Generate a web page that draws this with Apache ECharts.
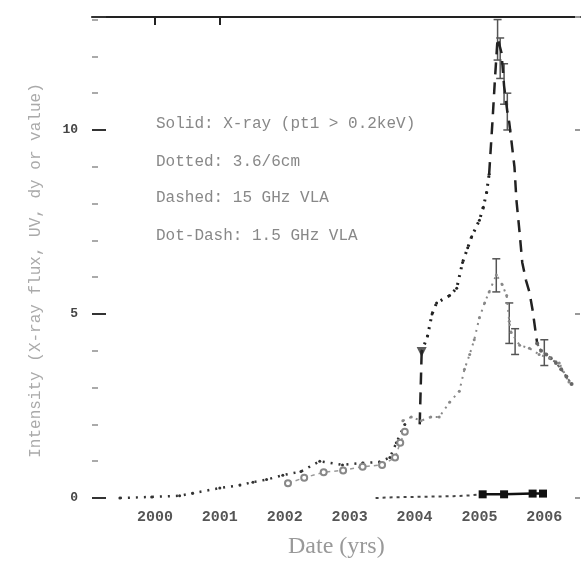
<!DOCTYPE html>
<html>
<head>
<meta charset="utf-8">
<script src="https://cdn.jsdelivr.net/npm/echarts@6/dist/echarts.min.js"></script>
<style>
  html, body { margin: 0; padding: 0; background: #fff; }
  #chart { width: 583px; height: 562px; }
</style>
</head>
<body>
<div id="chart"></div>
<script>
// tick labels
const yearTicks = [2000, 2001, 2002, 2003, 2004, 2005, 2006];
const topTicks = [2000, 2001];
const legendLines = [
  "Solid: X-ray (pt1 > 0.2keV)",
  "Dotted: 3.6/6cm",
  "Dashed: 15 GHz VLA",
  "Dot-Dash: 1.5 GHz VLA"
];

// X-ray, near zero
const xrayYears = [2005.05, 2005.38, 2005.82, 2005.98];
const xrayValues = [0.1, 0.1, 0.12, 0.12];
const xrayLimYears = [2003.4, 2003.7, 2004.0, 2004.3, 2004.6, 2004.85, 2005.05];
const xrayLimValues = [0.0, 0.02, 0.03, 0.04, 0.05, 0.07, 0.1];

// dotted curve, early part
const dotEarlyYears = [1999.46, 1999.95, 2000.38, 2000.58, 2001.0, 2001.31, 2001.51, 2001.72, 2001.97, 2002.25, 2002.54, 2002.89, 2003.2, 2003.46, 2003.62, 2003.72, 2003.85];
const dotEarlyValues = [0.0, 0.03, 0.06, 0.13, 0.27, 0.35, 0.43, 0.5, 0.62, 0.72, 1.0, 0.9, 0.95, 0.98, 1.1, 1.5, 2.0];
// dotted curve, rise to 2005
const dotRiseYears = [2004.11, 2004.2, 2004.27, 2004.34, 2004.54, 2004.65, 2004.74, 2004.82, 2004.88, 2005.0, 2005.06, 2005.11, 2005.15];
const dotRiseValues = [3.97, 4.4, 5.0, 5.3, 5.5, 5.7, 6.4, 6.8, 7.1, 7.55, 7.9, 8.3, 8.8];

// dashed segments
const dashJumpYears = [2004.08, 2004.11];
const dashJumpValues = [2.0, 3.97];
const dashPeakYears = [2005.15, 2005.2, 2005.24, 2005.28, 2005.34, 2005.38, 2005.43, 2005.46, 2005.54, 2005.57, 2005.62, 2005.66, 2005.72, 2005.77, 2005.82, 2005.89];
const dashPeakValues = [8.8, 10.2, 11.4, 12.5, 12.1, 11.2, 10.5, 10.2, 9.0, 8.1, 7.2, 6.4, 5.9, 5.6, 5.1, 4.2];
const tailYears = [2005.89, 2005.95, 2006.03, 2006.1, 2006.18, 2006.26, 2006.34, 2006.42];
const tailValues = [4.2, 4.0, 3.9, 3.8, 3.67, 3.5, 3.3, 3.1];

// dot-dash (lighter) curve
const lightYears = [2003.82, 2003.95, 2004.1, 2004.25, 2004.38, 2004.54, 2004.69, 2004.77, 2004.85, 2004.92, 2005.0, 2005.08, 2005.15, 2005.26, 2005.35, 2005.42, 2005.46, 2005.49, 2005.62, 2005.77, 2005.92, 2006.08, 2006.23, 2006.38];
const lightValues = [2.1, 2.2, 2.1, 2.2, 2.2, 2.6, 2.9, 3.5, 3.9, 4.3, 4.9, 5.3, 5.6, 6.06, 5.8, 5.5, 4.8, 4.5, 4.15, 4.07, 3.9, 3.8, 3.67, 3.15];
// second scattered group 2002-2004
const scatterYears = [2002.05, 2002.3, 2002.6, 2002.9, 2003.2, 2003.5, 2003.7, 2003.78, 2003.85];
const scatterValues = [0.4, 0.55, 0.7, 0.75, 0.85, 0.9, 1.1, 1.5, 1.8];

// error bars: year, low, high
const errYears = [2005.28, 2005.32, 2005.38, 2005.43, 2005.26, 2005.46, 2005.55, 2006.0];
const errLow = [11.9, 11.4, 10.7, 10.0, 5.6, 4.2, 3.9, 3.6];
const errHigh = [13.0, 12.5, 11.8, 11.0, 6.5, 5.3, 4.6, 4.3];

function pairs(xs, ys) {
  return xs.map((x, i) => [x, ys[i]]);
}

const chart = echarts.init(document.getElementById("chart"));

const mono = "Liberation Mono";

chart.setOption({
  animation: false,
  backgroundColor: "#fff",
  grid: { left: 92, right: 3, top: 17, bottom: 64 },
  xAxis: [
    {
      type: "value",
      min: 1999.03,
      max: 2006.55,
      axisLine: { show: false, onZero: false },
      axisTick: { show: false },
      splitLine: { show: false },
      axisLabel: {
        customValues: yearTicks,
        margin: 12,
        fontFamily: mono,
        fontWeight: "bold",
        fontSize: 15,
        color: "#555",
        formatter: (v) => String(Math.round(v))
      }
    },
    {
      type: "value",
      position: "top",
      min: 1999.03,
      max: 2006.55,
      axisLine: { show: true, onZero: false, lineStyle: { color: "#222", width: 2 } },
      axisTick: { show: true, inside: true, length: 8, customValues: topTicks, lineStyle: { color: "#222", width: 2 } },
      axisLabel: { show: false },
      splitLine: { show: false }
    }
  ],
  yAxis: [
    {
      type: "value",
      min: 0,
      max: 13.07,
      interval: 5,
      axisLine: { show: false, onZero: false },
      axisTick: { show: true, inside: true, length: 14, lineStyle: { color: "#333", width: 2 } },
      minorTick: { show: true, splitNumber: 5, length: 6, lineStyle: { color: "#aaa", width: 2 } },
      splitLine: { show: false },
      axisLabel: {
        margin: 14,
        fontFamily: mono,
        fontWeight: "bold",
        fontSize: 13,
        color: "#444",
        showMaxLabel: false
      },
      name: "Intensity (X-ray flux, UV, dy or value)",
      nameLocation: "middle",
      nameRotate: 90,
      nameGap: 48,
      nameTextStyle: { fontFamily: mono, fontSize: 16, color: "#aaa", padding: [0, 26, 0, 0] }
    },
    {
      type: "value",
      position: "right",
      min: 0,
      max: 13.07,
      interval: 5,
      axisLine: { show: false, onZero: false },
      axisTick: { show: true, inside: true, length: 5, lineStyle: { color: "#999", width: 2 } },
      axisLabel: { show: false },
      splitLine: { show: false }
    }
  ],
  graphic: [
    ...legendLines.map((t, i) => ({
      type: "text",
      left: 156,
      top: [116, 154, 190, 228][i],
      style: { text: t, fontFamily: mono, fontSize: 16, fill: "#888" }
    })),
    {
      type: "text",
      left: 288,
      top: 535,
      style: { text: "Date (yrs)", fontFamily: "Liberation Serif", fontSize: 24, fill: "#999" }
    }
  ],
  series: [
    {
      type: "line",
      data: pairs(xrayLimYears, xrayLimValues),
      symbol: "none",
      lineStyle: { color: "#444", width: 2, type: [3, 4] }
    },
    {
      type: "line",
      data: pairs(xrayYears, xrayValues),
      symbol: "rect",
      symbolSize: 8,
      itemStyle: { color: "#111" },
      lineStyle: { color: "#111", width: 2.5 }
    },
    {
      type: "line",
      data: pairs(dotEarlyYears, dotEarlyValues),
      symbol: "circle",
      symbolSize: 3,
      itemStyle: { color: "#333" },
      lineStyle: { color: "#333", width: 2.5, type: [2, 6] }
    },
    {
      type: "line",
      data: pairs(dotRiseYears, dotRiseValues),
      symbol: "circle",
      symbolSize: 3,
      itemStyle: { color: "#222" },
      lineStyle: { color: "#222", width: 3, type: [2, 6] }
    },
    {
      type: "line",
      data: pairs(dashJumpYears, dashJumpValues),
      symbol: "none",
      lineStyle: { color: "#222", width: 2.5, type: [12, 8] }
    },
    {
      type: "line",
      data: pairs(dashPeakYears, dashPeakValues),
      symbol: "none",
      lineStyle: { color: "#222", width: 2.5, type: [12, 8] }
    },
    {
      type: "line",
      data: pairs(tailYears, tailValues),
      symbol: "circle",
      symbolSize: 4,
      itemStyle: { color: "#666" },
      lineStyle: { color: "#666", width: 2, type: [3, 3] }
    },
    {
      type: "line",
      data: pairs(lightYears, lightValues),
      symbol: "circle",
      symbolSize: 3,
      itemStyle: { color: "#888" },
      lineStyle: { color: "#888", width: 2, type: [2, 5] }
    },
    {
      type: "line",
      data: pairs(scatterYears, scatterValues),
      symbol: "emptyCircle",
      symbolSize: 6,
      itemStyle: { color: "#888" },
      lineStyle: { color: "#999", width: 1.5, type: [4, 4] }
    },
    {
      type: "scatter",
      data: [[2004.11, 3.97]],
      symbol: "triangle",
      symbolRotate: 180,
      symbolSize: 10,
      itemStyle: { color: "#333" }
    },
    {
      type: "custom",
      data: errYears.map((x, i) => [x, errLow[i], errHigh[i]]),
      renderItem: (params, api) => {
        const lo = api.coord([api.value(0), api.value(1)]);
        const hi = api.coord([api.value(0), api.value(2)]);
        const w = 4;
        return {
          type: "group",
          children: [
            { type: "line", shape: { x1: lo[0], y1: lo[1], x2: hi[0], y2: hi[1] }, style: { stroke: "#555", lineWidth: 1.5 } },
            { type: "line", shape: { x1: lo[0] - w, y1: lo[1], x2: lo[0] + w, y2: lo[1] }, style: { stroke: "#555", lineWidth: 1.5 } },
            { type: "line", shape: { x1: hi[0] - w, y1: hi[1], x2: hi[0] + w, y2: hi[1] }, style: { stroke: "#555", lineWidth: 1.5 } }
          ]
        };
      }
    }
  ]
});
</script>
</body>
</html>
